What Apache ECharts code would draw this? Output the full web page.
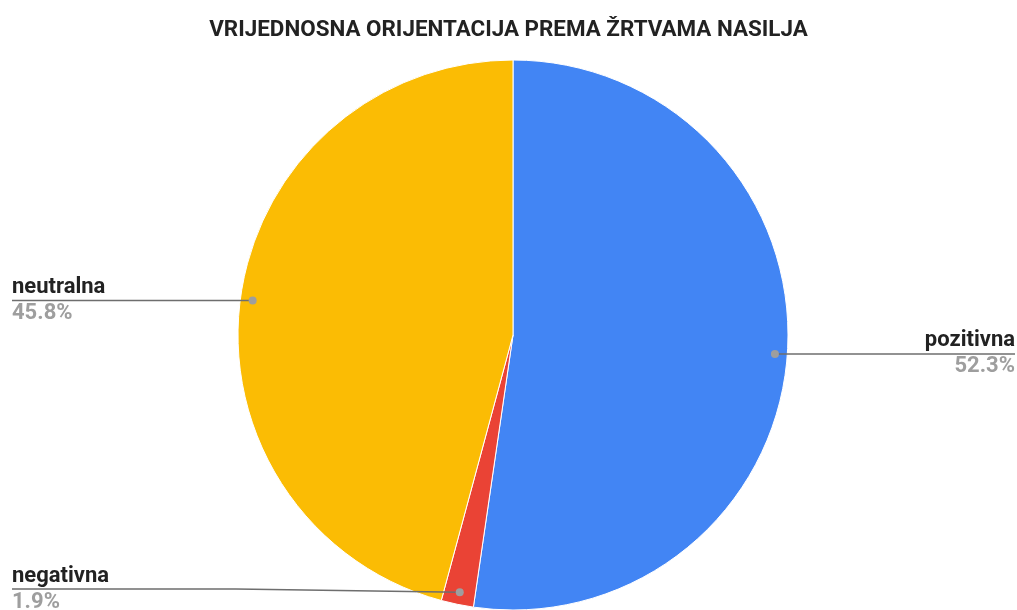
<!DOCTYPE html>
<html>
<head>
<meta charset="utf-8">
<script src="https://cdn.jsdelivr.net/npm/echarts@6/dist/echarts.min.js"></script>
<style>
  html, body { margin: 0; padding: 0; background: #fff; }
  #chart { width: 1017px; height: 610px; }
</style>
</head>
<body>
<div id="chart"></div>
<script>
const categories = ['pozitivna', 'negativna', 'neutralna'];
const shares = [52.3, 1.9, 45.8];
const colors = ['#4285F4', '#EA4335', '#FBBC04'];

const W = 1017, H = 610;
const CX = 513, CY = 335, R = 275;
const DOT_R = 0.955;
const dots = [];
const lines = [];

const chart = echarts.init(document.getElementById('chart'));

chart.setOption({
  animation: false,
  title: {
    text: 'VRIJEDNOSNA ORIJENTACIJA PREMA ŽRTVAMA NASILJA',
    left: 'center',
    top: 14,
    textStyle: { fontFamily: 'Roboto', fontSize: 22.4, fontWeight: 'bold', color: '#222' }
  },
  series: [{
    type: 'pie',
    center: [CX, CY],
    radius: R,
    startAngle: 90,
    clockwise: true,
    itemStyle: { borderColor: '#fff', borderWidth: 1 },
    data: categories.map((c, i) => ({ name: c, value: shares[i], itemStyle: { color: colors[i] } })),
    label: {
      show: true,
      position: 'outside',
      alignTo: 'edge',
      edgeDistance: 12,
      formatter: p => '{n|' + p.name + '}\n{p|' + p.value.toFixed(1) + '%}',
      rich: {
        n: { fontFamily: 'Roboto', fontSize: 22, fontWeight: 'bold', color: '#222', lineHeight: 26 },
        p: { fontFamily: 'Roboto', fontSize: 22, fontWeight: 'bold', color: '#9e9e9e', lineHeight: 26 }
      }
    },
    labelLine: {
      show: true,
      length: 10,
      length2: 10,
      lineStyle: { opacity: 0 }
    },
    labelLayout: function (p) {
      const pts = p.labelLinePoints;
      if (!pts) return {};
      const dx = pts[0][0] - CX, dy = pts[0][1] - CY;
      const dot = [CX + dx * DOT_R, CY + dy * DOT_R];
      dots[p.dataIndex] = dot;
      const left = dx < 0;
      const halfH = p.labelRect.height / 2;
      const y = Math.min(dot[1], H - halfH + 3);
      const edgeX = left ? 12 : W - 2;
      const bendX = edgeX + (dot[0] - edgeX) * 0.5;
      const linePts = [dot, [bendX, y], [edgeX, y]];
      lines[p.dataIndex] = linePts;
      return {
        x: edgeX,
        y: y,
        align: left ? 'left' : 'right',
        verticalAlign: 'middle',
        labelLinePoints: linePts
      };
    }
  }]
});

// label lines and end dots drawn on top of the slices
const extra = [];
lines.forEach(l => {
  if (!l) return;
  extra.push({
    type: 'polyline',
    shape: { points: l },
    style: { stroke: '#6e6e6e', lineWidth: 1.5, fill: null },
    z: 99
  });
});
dots.forEach(d => {
  if (!d) return;
  extra.push({
    type: 'circle',
    shape: { cx: d[0], cy: d[1], r: 4 },
    style: { fill: '#9e9e9e' },
    z: 100
  });
});
chart.setOption({ graphic: extra });
</script>
</body>
</html>
